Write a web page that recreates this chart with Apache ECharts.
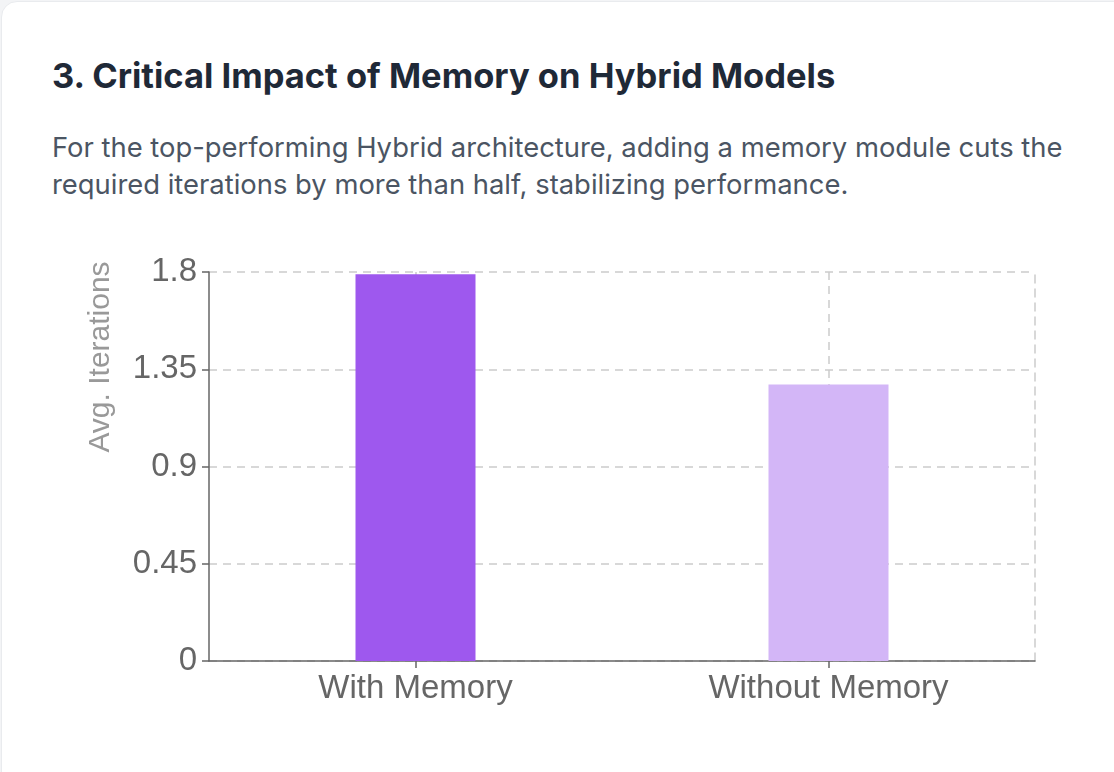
<!DOCTYPE html>
<html>
<head>
<meta charset="utf-8">
<script src="https://cdn.jsdelivr.net/npm/echarts@6/dist/echarts.min.js"></script>
<style>
  html, body { margin: 0; padding: 0; background: #f3f4f6; width: 1114px; height: 772px; overflow: hidden; }
  #card { position: absolute; left: 1px; top: 1px; width: 1200px; height: 900px; background: #fff;
          border: 1px solid #e9ebee; border-radius: 16px; box-sizing: border-box; }
  #title { position: absolute; left: 52px; top: 56px; margin: 0; font-family: Inter, "Liberation Sans", sans-serif;
           font-weight: 700; font-size: 34.5px; line-height: 40px; color: #1f2937; white-space: nowrap; }
  #sub { position: absolute; left: 52px; top: 129px; width: 1040px; margin: 0; font-family: Inter, "Liberation Sans", sans-serif;
         font-size: 27.4px; line-height: 37px; color: #4b5563; }
  #chart { position: absolute; left: 0; top: 0; width: 1114px; height: 772px; }
</style>
</head>
<body>
<div id="card"></div>
<h3 id="title">3. Critical Impact of Memory on Hybrid Models</h3>
<p id="sub">For the top-performing Hybrid architecture, adding a memory module cuts the required iterations by more than half, stabilizing performance.</p>
<div id="chart"></div>
<script>
const categories = ["With Memory", "Without Memory"];
const avgIterations = [1.79, 1.28];
const barColors = ["#9e58ee", "#d3b6f7"];
const yTicks = [0, 0.45, 0.9, 1.35, 1.8];
const yAxisTitle = "Avg. Iterations";

const chart = echarts.init(document.getElementById('chart'), null, { renderer: 'canvas' });
const font = '"Liberation Sans", Arial, sans-serif';
chart.setOption({
  animation: false,
  backgroundColor: 'transparent',
  grid: { left: 209, top: 272, right: 79, bottom: 111, containLabel: false },
  xAxis: {
    type: 'category',
    data: categories,
    axisLine: { lineStyle: { color: '#666', width: 1.5 } },
    axisTick: { show: true, alignWithLabel: true, length: 7, lineStyle: { color: '#666', width: 1.5 } },
    axisLabel: { color: '#666', fontSize: 33, fontFamily: font, margin: 11 },
    splitLine: { show: true, alignWithLabel: true, lineStyle: { color: '#ccc', type: [8, 6], width: 1.5 } }
  },
  yAxis: [{
    type: 'value',
    min: yTicks[0],
    max: yTicks[yTicks.length - 1],
    interval: yTicks[1] - yTicks[0],
    axisLine: { show: true, lineStyle: { color: '#666', width: 1.5 } },
    axisTick: { show: true, length: 7, lineStyle: { color: '#666', width: 1.5 } },
    axisLabel: { color: '#666', fontSize: 33, fontFamily: font, margin: 12 },
    splitLine: { show: true, lineStyle: { color: '#ccc', type: [8, 6], width: 1.5 } }
  }, {
    type: 'value',
    position: 'right',
    min: yTicks[0],
    max: yTicks[yTicks.length - 1],
    interval: yTicks[1] - yTicks[0],
    axisLine: { show: true, lineStyle: { color: '#ccc', type: [8, 6], width: 1.5 } },
    axisTick: { show: false },
    axisLabel: { show: false },
    splitLine: { show: false }
  }],
  graphic: [{
    type: 'text',
    x: 101, y: 357,
    rotation: Math.PI / 2,
    style: { text: yAxisTitle, fill: '#999', font: '30px ' + font, align: 'center', verticalAlign: 'middle' }
  }],
  series: [{
    type: 'bar',
    barWidth: 120,
    data: avgIterations.map((v, i) => ({ value: v, itemStyle: { color: barColors[i] } }))
  }]
});
</script>
</body>
</html>
